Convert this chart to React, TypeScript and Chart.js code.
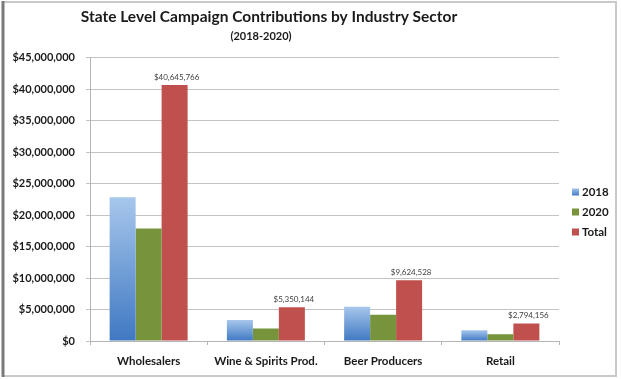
import React, { useEffect, useRef } from "react";
import { Chart, registerables } from "chart.js";

Chart.register(...registerables);

const categories = ["Wholesalers", "Wine & Spirits Prod.", "Beer Producers", "Retail"];
const values2018 = [22800000, 3350000, 5450000, 1720000];
const values2020 = [17850000, 2000000, 4170000, 1075000];
const valuesTotal = [40645766, 5350144, 9624528, 2794156];
const seriesNames = ["2018", "2020", "Total"];
const yTicks = [0, 5000000, 10000000, 15000000, 20000000, 25000000, 30000000, 35000000, 40000000, 45000000];
const titleText = "State Level Campaign Contributions by Industry Sector";
const subtitleText = "(2018-2020)";

const FONT = "Lato, 'DejaVu Sans', sans-serif";
const BLUE_TOP = "#a7c7ec";
const BLUE_BOTTOM = "#3f78c2";
const GREEN = "#77933c";
const RED = "#c0504d";

const fmt = (v: number) => "$" + Math.round(v).toLocaleString("en-US");

const blueGradient = (ctx: any) => {
  const chart = ctx.chart;
  const y = chart.scales && chart.scales.y;
  if (!chart.chartArea || !y || ctx.raw == null) return BLUE_BOTTOM;
  const top = y.getPixelForValue(ctx.raw);
  const bottom = y.getPixelForValue(0);
  const g = chart.ctx.createLinearGradient(0, top, 0, bottom);
  g.addColorStop(0, BLUE_TOP);
  g.addColorStop(1, BLUE_BOTTOM);
  return g;
};

const framePlugin = {
  id: "frame",
  beforeDraw(chart: any) {
    const c = chart.ctx;
    c.save();
    c.fillStyle = "#ffffff";
    c.fillRect(0, 0, chart.width, chart.height);
    c.strokeStyle = "#c9c9c9";
    c.lineWidth = 2;
    c.strokeRect(3, 2, 613, 374);
    c.strokeStyle = "#7a7a7a";
    c.lineWidth = 3;
    c.beginPath();
    c.moveTo(3, 1);
    c.lineTo(3, 377);
    c.stroke();
    c.restore();
  },
};

const textPlugin = {
  id: "texts",
  afterDraw(chart: any) {
    const c = chart.ctx;
    c.save();
    c.fillStyle = "#1a1a1a";
    c.textAlign = "center";
    c.textBaseline = "middle";
    c.font = `bold 15.5px ${FONT}`;
    c.fillText(titleText, 269, 17);
    c.font = `bold 11px ${FONT}`;
    c.fillText(subtitleText, 261, 36);
    // legend
    const colors = [BLUE_BOTTOM, GREEN, RED];
    const ys = [192, 212, 232];
    c.textAlign = "left";
    c.font = `bold 11.5px ${FONT}`;
    seriesNames.forEach((name, i) => {
      if (i === 0) {
        const g = c.createLinearGradient(0, ys[i] - 4, 0, ys[i] + 4);
        g.addColorStop(0, BLUE_TOP);
        g.addColorStop(1, BLUE_BOTTOM);
        c.fillStyle = g;
      } else {
        c.fillStyle = colors[i];
      }
      c.fillRect(572, ys[i] - 3.5, 7, 7);
      c.fillStyle = "#1a1a1a";
      c.fillText(name, 582, ys[i] + 0.5);
    });
    c.restore();
  },
  afterDatasetsDraw(chart: any) {
    const c = chart.ctx;
    const meta = chart.getDatasetMeta(2);
    c.save();
    c.fillStyle = "#404040";
    c.font = `8px ${FONT}`;
    c.textAlign = "center";
    c.textBaseline = "alphabetic";
    meta.data.forEach((el: any, i: number) => {
      c.fillText(fmt(valuesTotal[i]), el.x + 2, el.y - 5);
    });
    c.restore();
  },
};

export default function App() {
  const ref = useRef<HTMLCanvasElement>(null);
  useEffect(() => {
    if (!ref.current) return;
    const chart = new Chart(ref.current, {
      type: "bar",
      data: {
        labels: categories,
        datasets: [
          { label: seriesNames[0], data: values2018, backgroundColor: blueGradient },
          { label: seriesNames[1], data: values2020, backgroundColor: GREEN },
          { label: seriesNames[2], data: valuesTotal, backgroundColor: RED },
        ],
      },
      options: {
        responsive: false,
        animation: false,
        layout: { padding: { left: 0, top: 57.5, right: 62, bottom: 0 } },
        datasets: { bar: { barPercentage: 1, categoryPercentage: 0.665 } },
        plugins: {
          legend: { display: false },
          title: { display: false },
          tooltip: { enabled: false },
        },
        scales: {
          x: {
            afterFit: (s: any) => { s.height = 38; },
            grid: { drawOnChartArea: false, drawTicks: true, tickLength: 4, color: "#b5b5b5" },
            border: { color: "#b5b5b5" },
            ticks: { padding: 9, color: "#1a1a1a", font: { family: FONT, size: 11.5, weight: "bold" } },
          },
          y: {
            min: 0,
            max: 45000000,
            afterFit: (s: any) => { s.width = 90; },
            afterBuildTicks: (s: any) => { s.ticks = yTicks.map((v) => ({ value: v })); },
            grid: { color: "#c4c4c4", tickLength: 4 },
            border: { color: "#b5b5b5" },
            ticks: {
              padding: 11,
              color: "#1a1a1a",
              font: { family: FONT, size: 11, weight: "bold" },
              callback: (v: any) => fmt(Number(v)),
            },
          },
        },
      },
      plugins: [framePlugin, textPlugin],
    });
    return () => chart.destroy();
  }, []);
  return (
    <div style={{ position: "absolute", left: 0, top: 0, width: 621, height: 379 }}>
      <canvas ref={ref} width={621} height={379} style={{ display: "block" }} />
    </div>
  );
}
